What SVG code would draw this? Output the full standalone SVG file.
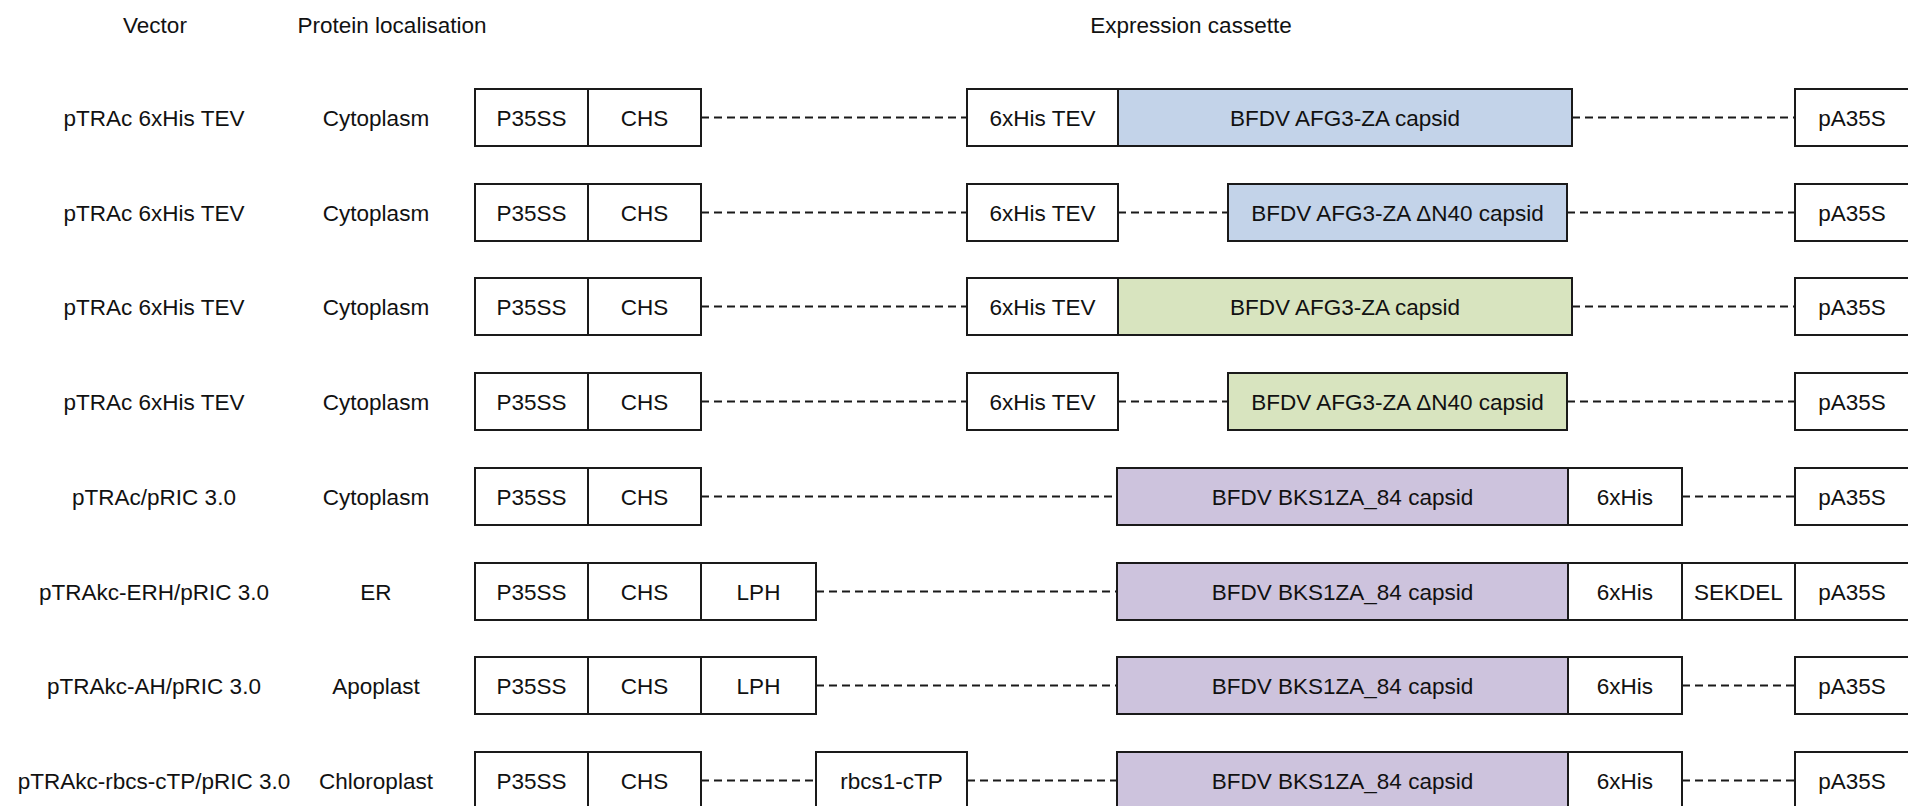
<svg xmlns="http://www.w3.org/2000/svg" width="1908" height="806" viewBox="0 0 1908 806">
<style>
text{font-family:"Liberation Sans",Arial,sans-serif;font-size:22.5px;fill:#111;text-anchor:middle}
.b{fill:#fff;stroke:#1a1a1a;stroke-width:2}
.blue{fill:#c3d3e9;stroke:#1a1a1a;stroke-width:2}
.green{fill:#d8e4bf;stroke:#1a1a1a;stroke-width:2}
.purple{fill:#cdc3dd;stroke:#1a1a1a;stroke-width:2}
.d{stroke:#1a1a1a;stroke-width:1.8;stroke-dasharray:8 5;fill:none}
</style>
<rect width="1908" height="806" fill="#fff"/>
<g id="headers">
<text x="155" y="33">Vector</text>
<text x="392" y="33">Protein localisation</text>
<text x="1191" y="33">Expression cassette</text>
</g>
<g id="connectors">
<line class="d" x1="701" y1="117.5" x2="967" y2="117.5"/>
<line class="d" x1="1572" y1="117.5" x2="1795" y2="117.5"/>
<line class="d" x1="701" y1="212.5" x2="967" y2="212.5"/>
<line class="d" x1="1118" y1="212.5" x2="1228" y2="212.5"/>
<line class="d" x1="1567" y1="212.5" x2="1795" y2="212.5"/>
<line class="d" x1="701" y1="306.5" x2="967" y2="306.5"/>
<line class="d" x1="1572" y1="306.5" x2="1795" y2="306.5"/>
<line class="d" x1="701" y1="401.5" x2="967" y2="401.5"/>
<line class="d" x1="1118" y1="401.5" x2="1228" y2="401.5"/>
<line class="d" x1="1567" y1="401.5" x2="1795" y2="401.5"/>
<line class="d" x1="701" y1="496.5" x2="1117" y2="496.5"/>
<line class="d" x1="1682" y1="496.5" x2="1795" y2="496.5"/>
<line class="d" x1="816" y1="591.5" x2="1117" y2="591.5"/>
<line class="d" x1="816" y1="685.5" x2="1117" y2="685.5"/>
<line class="d" x1="1682" y1="685.5" x2="1795" y2="685.5"/>
<line class="d" x1="701" y1="780.5" x2="816" y2="780.5"/>
<line class="d" x1="967" y1="780.5" x2="1117" y2="780.5"/>
<line class="d" x1="1682" y1="780.5" x2="1795" y2="780.5"/>
</g>
<g id="row1">
<g id="r1-vector"><text x="154" y="125.5">pTRAc 6xHis TEV</text></g>
<g id="r1-loc"><text x="376" y="125.5">Cytoplasm</text></g>
<g id="r1-p35ss"><rect class="b" x="475" y="89" width="113" height="57"/><text x="531.5" y="125.5">P35SS</text></g>
<g id="r1-chs"><rect class="b" x="588" y="89" width="113" height="57"/><text x="644.5" y="125.5">CHS</text></g>
<g id="r1-tev"><rect class="b" x="967" y="89" width="151" height="57"/><text x="1042.5" y="125.5">6xHis TEV</text></g>
<g id="r1-capsid"><rect class="blue" x="1118" y="89" width="454" height="57"/><text x="1345" y="125.5">BFDV AFG3-ZA capsid</text></g>
<g id="r1-pa35s"><rect class="b" x="1795" y="89" width="116" height="57"/><text x="1852" y="125.5">pA35S</text></g>
</g>
<g id="row2">
<g id="r2-vector"><text x="154" y="220.5">pTRAc 6xHis TEV</text></g>
<g id="r2-loc"><text x="376" y="220.5">Cytoplasm</text></g>
<g id="r2-p35ss"><rect class="b" x="475" y="184" width="113" height="57"/><text x="531.5" y="220.5">P35SS</text></g>
<g id="r2-chs"><rect class="b" x="588" y="184" width="113" height="57"/><text x="644.5" y="220.5">CHS</text></g>
<g id="r2-tev"><rect class="b" x="967" y="184" width="151" height="57"/><text x="1042.5" y="220.5">6xHis TEV</text></g>
<g id="r2-capsid"><rect class="blue" x="1228" y="184" width="339" height="57"/><text x="1397.5" y="220.5">BFDV AFG3-ZA ΔN40 capsid</text></g>
<g id="r2-pa35s"><rect class="b" x="1795" y="184" width="116" height="57"/><text x="1852" y="220.5">pA35S</text></g>
</g>
<g id="row3">
<g id="r3-vector"><text x="154" y="314.5">pTRAc 6xHis TEV</text></g>
<g id="r3-loc"><text x="376" y="314.5">Cytoplasm</text></g>
<g id="r3-p35ss"><rect class="b" x="475" y="278" width="113" height="57"/><text x="531.5" y="314.5">P35SS</text></g>
<g id="r3-chs"><rect class="b" x="588" y="278" width="113" height="57"/><text x="644.5" y="314.5">CHS</text></g>
<g id="r3-tev"><rect class="b" x="967" y="278" width="151" height="57"/><text x="1042.5" y="314.5">6xHis TEV</text></g>
<g id="r3-capsid"><rect class="green" x="1118" y="278" width="454" height="57"/><text x="1345" y="314.5">BFDV AFG3-ZA capsid</text></g>
<g id="r3-pa35s"><rect class="b" x="1795" y="278" width="116" height="57"/><text x="1852" y="314.5">pA35S</text></g>
</g>
<g id="row4">
<g id="r4-vector"><text x="154" y="409.5">pTRAc 6xHis TEV</text></g>
<g id="r4-loc"><text x="376" y="409.5">Cytoplasm</text></g>
<g id="r4-p35ss"><rect class="b" x="475" y="373" width="113" height="57"/><text x="531.5" y="409.5">P35SS</text></g>
<g id="r4-chs"><rect class="b" x="588" y="373" width="113" height="57"/><text x="644.5" y="409.5">CHS</text></g>
<g id="r4-tev"><rect class="b" x="967" y="373" width="151" height="57"/><text x="1042.5" y="409.5">6xHis TEV</text></g>
<g id="r4-capsid"><rect class="green" x="1228" y="373" width="339" height="57"/><text x="1397.5" y="409.5">BFDV AFG3-ZA ΔN40 capsid</text></g>
<g id="r4-pa35s"><rect class="b" x="1795" y="373" width="116" height="57"/><text x="1852" y="409.5">pA35S</text></g>
</g>
<g id="row5">
<g id="r5-vector"><text x="154" y="504.5">pTRAc/pRIC 3.0</text></g>
<g id="r5-loc"><text x="376" y="504.5">Cytoplasm</text></g>
<g id="r5-p35ss"><rect class="b" x="475" y="468" width="113" height="57"/><text x="531.5" y="504.5">P35SS</text></g>
<g id="r5-chs"><rect class="b" x="588" y="468" width="113" height="57"/><text x="644.5" y="504.5">CHS</text></g>
<g id="r5-capsid"><rect class="purple" x="1117" y="468" width="451" height="57"/><text x="1342.5" y="504.5">BFDV BKS1ZA_84 capsid</text></g>
<g id="r5-his"><rect class="b" x="1568" y="468" width="114" height="57"/><text x="1625" y="504.5">6xHis</text></g>
<g id="r5-pa35s"><rect class="b" x="1795" y="468" width="116" height="57"/><text x="1852" y="504.5">pA35S</text></g>
</g>
<g id="row6">
<g id="r6-vector"><text x="154" y="599.5">pTRAkc-ERH/pRIC 3.0</text></g>
<g id="r6-loc"><text x="376" y="599.5">ER</text></g>
<g id="r6-p35ss"><rect class="b" x="475" y="563" width="113" height="57"/><text x="531.5" y="599.5">P35SS</text></g>
<g id="r6-chs"><rect class="b" x="588" y="563" width="113" height="57"/><text x="644.5" y="599.5">CHS</text></g>
<g id="r6-lph"><rect class="b" x="701" y="563" width="115" height="57"/><text x="758.5" y="599.5">LPH</text></g>
<g id="r6-capsid"><rect class="purple" x="1117" y="563" width="451" height="57"/><text x="1342.5" y="599.5">BFDV BKS1ZA_84 capsid</text></g>
<g id="r6-his"><rect class="b" x="1568" y="563" width="114" height="57"/><text x="1625" y="599.5">6xHis</text></g>
<g id="r6-sekdel"><rect class="b" x="1682" y="563" width="113" height="57"/><text x="1738.5" y="599.5">SEKDEL</text></g>
<g id="r6-pa35s"><rect class="b" x="1795" y="563" width="116" height="57"/><text x="1852" y="599.5">pA35S</text></g>
</g>
<g id="row7">
<g id="r7-vector"><text x="154" y="693.5">pTRAkc-AH/pRIC 3.0</text></g>
<g id="r7-loc"><text x="376" y="693.5">Apoplast</text></g>
<g id="r7-p35ss"><rect class="b" x="475" y="657" width="113" height="57"/><text x="531.5" y="693.5">P35SS</text></g>
<g id="r7-chs"><rect class="b" x="588" y="657" width="113" height="57"/><text x="644.5" y="693.5">CHS</text></g>
<g id="r7-lph"><rect class="b" x="701" y="657" width="115" height="57"/><text x="758.5" y="693.5">LPH</text></g>
<g id="r7-capsid"><rect class="purple" x="1117" y="657" width="451" height="57"/><text x="1342.5" y="693.5">BFDV BKS1ZA_84 capsid</text></g>
<g id="r7-his"><rect class="b" x="1568" y="657" width="114" height="57"/><text x="1625" y="693.5">6xHis</text></g>
<g id="r7-pa35s"><rect class="b" x="1795" y="657" width="116" height="57"/><text x="1852" y="693.5">pA35S</text></g>
</g>
<g id="row8">
<g id="r8-vector"><text x="154" y="788.5">pTRAkc-rbcs-cTP/pRIC 3.0</text></g>
<g id="r8-loc"><text x="376" y="788.5">Chloroplast</text></g>
<g id="r8-p35ss"><rect class="b" x="475" y="752" width="113" height="60"/><text x="531.5" y="788.5">P35SS</text></g>
<g id="r8-chs"><rect class="b" x="588" y="752" width="113" height="60"/><text x="644.5" y="788.5">CHS</text></g>
<g id="r8-ctp"><rect class="b" x="816" y="752" width="151" height="60"/><text x="891.5" y="788.5">rbcs1-cTP</text></g>
<g id="r8-capsid"><rect class="purple" x="1117" y="752" width="451" height="60"/><text x="1342.5" y="788.5">BFDV BKS1ZA_84 capsid</text></g>
<g id="r8-his"><rect class="b" x="1568" y="752" width="114" height="60"/><text x="1625" y="788.5">6xHis</text></g>
<g id="r8-pa35s"><rect class="b" x="1795" y="752" width="116" height="60"/><text x="1852" y="788.5">pA35S</text></g>
</g>
</svg>
